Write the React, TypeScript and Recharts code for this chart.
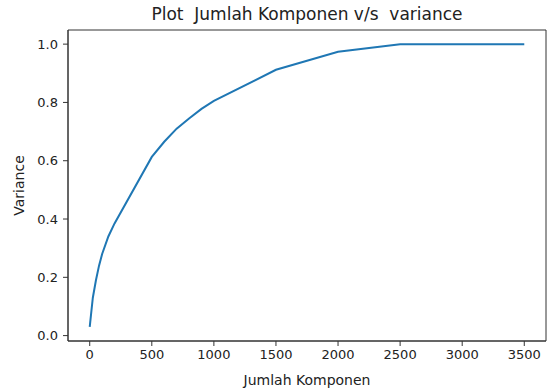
import { LineChart, Line, XAxis, YAxis, Label, ReferenceArea } from 'recharts';

// number of components vs cumulative explained variance
const components = [0, 10, 25, 50, 75, 100, 150, 200, 500, 600, 700, 800, 900, 1000, 1500, 2000, 2500, 3000, 3500];
const variance = [0.03, 0.07, 0.13, 0.19, 0.24, 0.28, 0.34, 0.385, 0.613, 0.665, 0.71, 0.745, 0.778, 0.805, 0.912, 0.974, 1.0, 1.0, 1.0];

const xTicks = [0, 500, 1000, 1500, 2000, 2500, 3000, 3500];
const yTicks = [0, 0.2, 0.4, 0.6, 0.8, 1.0];

const X_DOMAIN = [-175, 3675];
const Y_DOMAIN = [-0.0185, 1.0485];

const FONT = '"DejaVu Sans", sans-serif';
const AXIS = '#333';

export default function App() {
  const data = components.map((c, i) => ({ n: c, v: variance[i] }));
  const tickStyle = { fontSize: 13, fill: '#222', fontFamily: FONT };
  const labelStyle = { fontSize: 14, fill: '#222', fontFamily: FONT };

  return (
    <div style={{ position: 'absolute', left: 0, top: 0, width: 548, height: 389, background: '#fff' }}>
      <div
        style={{
          position: 'absolute',
          left: 68,
          width: 478,
          top: 4,
          textAlign: 'center',
          fontFamily: FONT,
          fontSize: 17,
          color: '#222',
          whiteSpace: 'pre',
        }}
      >
        {'Plot  Jumlah Komponen v/s  variance'}
      </div>
      <LineChart width={548} height={389} data={data} margin={{ top: 30, right: 2, bottom: 0, left: 0 }}>
        <XAxis
          dataKey="n"
          type="number"
          domain={X_DOMAIN}
          ticks={xTicks}
          allowDataOverflow
          tick={tickStyle}
          tickSize={5}
          tickMargin={4}
          height={48}
          axisLine={{ stroke: AXIS }}
          tickLine={{ stroke: AXIS }}
        >
          <Label value="Jumlah Komponen" position="insideBottom" offset={4} style={labelStyle} />
        </XAxis>
        <YAxis
          type="number"
          domain={Y_DOMAIN}
          ticks={yTicks}
          allowDataOverflow
          tickFormatter={(v: number) => v.toFixed(1)}
          tick={tickStyle}
          tickSize={5}
          tickMargin={5}
          width={68}
          axisLine={{ stroke: AXIS }}
          tickLine={{ stroke: AXIS }}
        >
          <Label value="Variance" angle={-90} position="insideLeft" offset={19} style={{ ...labelStyle, textAnchor: 'middle' }} />
        </YAxis>
        <ReferenceArea
          x1={X_DOMAIN[0]}
          x2={X_DOMAIN[1]}
          y1={Y_DOMAIN[0]}
          y2={Y_DOMAIN[1]}
          fill="none"
          fillOpacity={0}
          stroke={AXIS}
          strokeWidth={1}
          ifOverflow="visible"
        />
        <Line
          type="linear"
          dataKey="v"
          stroke="#1f77b4"
          strokeWidth={2}
          dot={false}
          isAnimationActive={false}
        />
      </LineChart>
    </div>
  );
}
